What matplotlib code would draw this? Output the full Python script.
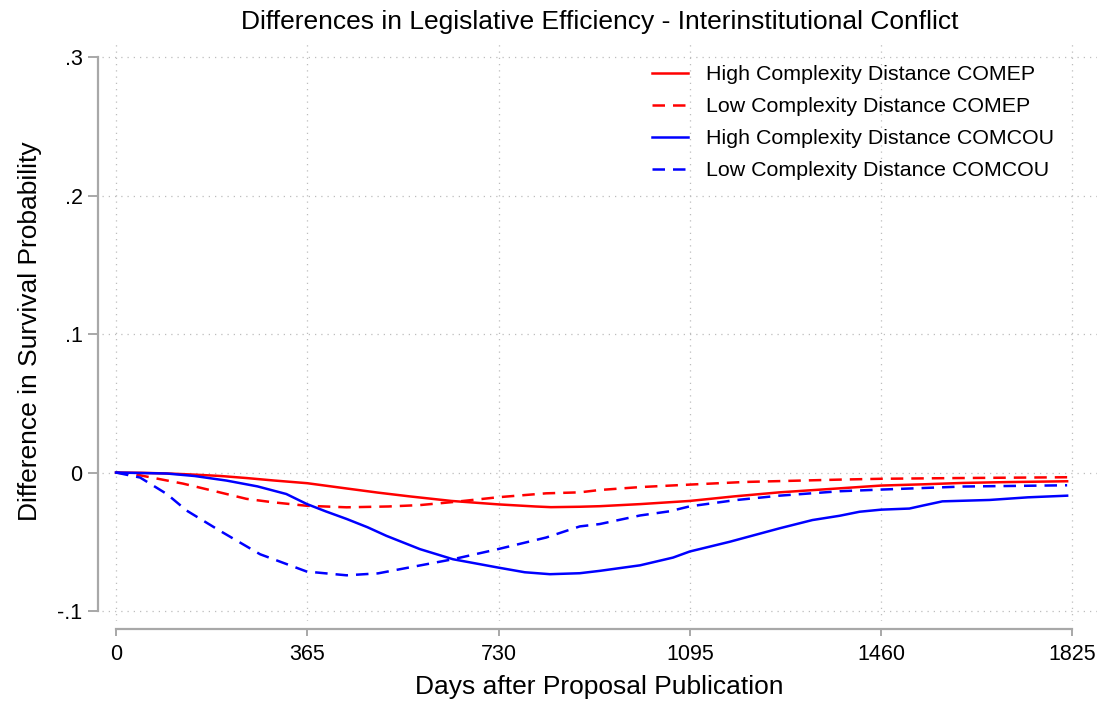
import matplotlib
matplotlib.use("Agg")
import matplotlib.pyplot as plt

plt.rcParams['font.family'] = ['Liberation Sans', 'DejaVu Sans']

title = "Differences in Legislative Efficiency - Interinstitutional Conflict"
xlabel = "Days after Proposal Publication"
ylabel = "Difference in Survival Probability"
xticks = [0, 365, 730, 1095, 1460, 1825]
yticks = [-0.1, 0, 0.1, 0.2, 0.3]
ytick_labels = ["-.1", "0", ".1", ".2", ".3"]

# High Complexity Distance COMEP (red solid)
hi_ep_days = [0, 50, 100, 150, 200, 250, 300, 365, 440, 500, 560, 640, 730, 800, 830,
              885, 923, 1000, 1095, 1180, 1266, 1381, 1460, 1540, 1616, 1700, 1815]
hi_ep_vals = [0, -0.0002, -0.0007, -0.0015, -0.0025, -0.004, -0.0057, -0.0077, -0.0115,
              -0.0145, -0.0172, -0.0205, -0.023, -0.0245, -0.025, -0.0247, -0.0243, -0.0228,
              -0.0205, -0.0172, -0.0143, -0.0114, -0.0094, -0.0085, -0.0075, -0.0069, -0.0063]

# Low Complexity Distance COMEP (red dashed)
lo_ep_days = [0, 46, 128, 200, 249, 300, 364, 440, 520, 580, 643, 730, 821, 885, 923,
              1000, 1095, 1200, 1381, 1460, 1600, 1815]
lo_ep_vals = [0, -0.002, -0.008, -0.0145, -0.019, -0.0215, -0.024, -0.0251, -0.0245,
              -0.0235, -0.0213, -0.0178, -0.015, -0.0143, -0.0126, -0.0105, -0.0087,
              -0.0068, -0.0051, -0.0045, -0.004, -0.0034]

# High Complexity Distance COMCOU (blue solid)
hi_cou_days = [0, 97, 150, 211, 270, 325, 364, 400, 440, 480, 516, 580, 643, 729, 780,
               828, 885, 923, 1000, 1063, 1095, 1171, 1266, 1329, 1381, 1419, 1460, 1514,
               1539, 1577, 1667, 1740, 1815]
hi_cou_vals = [0, -0.0007, -0.0025, -0.0058, -0.010, -0.0155, -0.0227, -0.028, -0.0335,
               -0.0395, -0.0457, -0.0553, -0.0626, -0.0686, -0.072, -0.0734, -0.0727,
               -0.071, -0.067, -0.0614, -0.057, -0.050, -0.0403, -0.0343, -0.0312,
               -0.0283, -0.0268, -0.026, -0.0239, -0.0208, -0.0198, -0.0179, -0.0167]

# Low Complexity Distance COMCOU (blue dashed)
lo_cou_days = [0, 46, 97, 135, 198, 275, 364, 440, 500, 542, 643, 729, 821, 885, 923,
               1000, 1056, 1095, 1180, 1266, 1381, 1460, 1616, 1815]
lo_cou_vals = [0, -0.0036, -0.0155, -0.0275, -0.042, -0.059, -0.0715, -0.0742, -0.0728,
               -0.0698, -0.0626, -0.0553, -0.0469, -0.0389, -0.0372, -0.031, -0.028,
               -0.0244, -0.020, -0.0167, -0.0135, -0.0123, -0.0101, -0.0092]

W, H = 1101, 704
fig = plt.figure(figsize=(W / 100, H / 100), dpi=100)
ax_l, ax_r, ax_t, ax_b = 102, 1097, 42, 621
ax = fig.add_axes([ax_l / W, (H - ax_b) / H, (ax_r - ax_l) / W, (ax_b - ax_t) / H])

lw = 1.8
dash = (0, (5.0, 3.2))
ax.plot(hi_ep_days, hi_ep_vals, color='#ff0000', lw=lw, ls='-', label='High Complexity Distance COMEP')
ax.plot(lo_ep_days, lo_ep_vals, color='#ff0000', lw=lw, ls=dash, label='Low Complexity Distance COMEP')
ax.plot(hi_cou_days, hi_cou_vals, color='#0000ff', lw=lw, ls='-', label='High Complexity Distance COMCOU')
ax.plot(lo_cou_days, lo_cou_vals, color='#0000ff', lw=lw, ls=dash, label='Low Complexity Distance COMCOU')

ax.set_xlim(-26.7, 1872)
ax.set_ylim(-0.1072, 0.3109)

ax.set_xticks(xticks)
ax.set_xticklabels([str(x) for x in xticks])
ax.set_yticks(yticks)
ax.set_yticklabels(ytick_labels)

grid_kw = dict(color='#bdbdbd', lw=0.9, ls=(0, (1, 4)))
ax.grid(True, **grid_kw)
ax.set_axisbelow(True)

spine_col = '#a8a8a8'
for s in ['top', 'right']:
    ax.spines[s].set_visible(False)
ax.spines['left'].set_position(('outward', 3))
ax.spines['bottom'].set_position(('outward', 5.5))
ax.spines['left'].set_bounds(-0.1, 0.3)
ax.spines['bottom'].set_bounds(0, 1825)
for s in ['left', 'bottom']:
    ax.spines[s].set_color(spine_col)
    ax.spines[s].set_linewidth(1.6)

ax.tick_params(axis='y', length=7, width=1.4, color=spine_col, labelsize=15.5, pad=4)
ax.tick_params(axis='x', length=5, width=1.4, color=spine_col, labelsize=15.5, pad=6)

ax.set_title(title, fontsize=19, pad=9)
ax.set_xlabel(xlabel, fontsize=19, labelpad=7)
ax.set_ylabel(ylabel, fontsize=19, labelpad=11)

leg = ax.legend(loc='upper right', bbox_to_anchor=(0.957, 0.96), frameon=False, fontsize=15.4,
                handlelength=1.7, handletextpad=0.85, labelspacing=0.61,
                borderpad=0, borderaxespad=0)

fig.savefig('out.png', dpi=100)
